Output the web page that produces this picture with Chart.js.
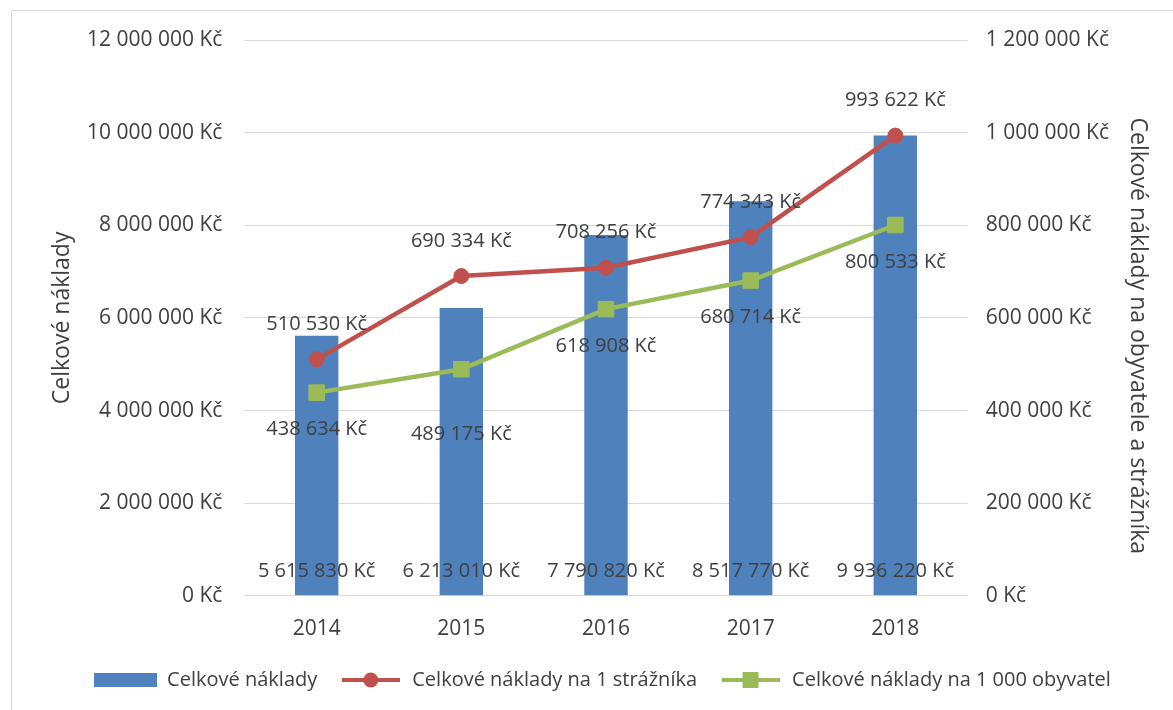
<!DOCTYPE html>
<html>
<head>
<meta charset="utf-8">
<script src="https://cdn.jsdelivr.net/npm/chart.js@4"></script>
<style>
  body { margin: 0; background: #fff; }
  #wrap { position: relative; width: 1173px; height: 710px; overflow: hidden; }
  #frame { position: absolute; left: 11px; top: 10px; width: 1200px; height: 760px; border: 1px solid #d9d9d9; box-sizing: border-box; }
  #chart-box { position: absolute; left: 0; top: 0; width: 1173px; height: 710px; }
</style>
</head>
<body>
<div id="wrap">
  <div id="frame"></div>
  <div id="chart-box"><canvas id="costs-chart"></canvas></div>
</div>
<script>
"use strict";
const years = ["2014", "2015", "2016", "2017", "2018"];
const totalCosts = [5615830, 6213010, 7790820, 8517770, 9936220];
const costsPerGuard = [510530, 690334, 708256, 774343, 993622];
const costsPerThousand = [438634, 489175, 618908, 680714, 800533];
const leftTicks = [0, 2000000, 4000000, 6000000, 8000000, 10000000, 12000000];
const rightTicks = [0, 200000, 400000, 600000, 800000, 1000000, 1200000];

const blue = "#4f81bd";
const red = "#c0504d";
const green = "#9bbb59";
const textColor = "#404040";
const fontFamily = "'Open Sans', 'Noto Sans', sans-serif";

const formatKc = (value) =>
  String(value).replace(/\B(?=(\d{3})+(?!\d))/g, " ") + " Kč";

// legend samples, excel style
const makeSample = (kind, color) => {
  const c = document.createElement("canvas");
  const ctx = c.getContext("2d");
  if (kind === "bar") {
    c.width = 63;
    c.height = 14;
    ctx.fillStyle = color;
    ctx.fillRect(0, 0, 63, 14);
    return c;
  }
  c.width = 58;
  c.height = 18;
  ctx.strokeStyle = color;
  ctx.lineWidth = 4;
  ctx.beginPath();
  ctx.moveTo(0, 9);
  ctx.lineTo(58, 9);
  ctx.stroke();
  ctx.fillStyle = color;
  if (kind === "circle") {
    ctx.beginPath();
    ctx.arc(29, 9, 7.5, 0, Math.PI * 2);
    ctx.fill();
  } else {
    ctx.fillRect(21, 1, 16, 16);
  }
  return c;
};

const dataLabels = {
  id: "dataLabels",
  afterDatasetsDraw(chart) {
    const ctx = chart.ctx;
    const yLeft = chart.scales.y;
    ctx.save();
    ctx.font = "20px " + fontFamily;
    ctx.fillStyle = textColor;
    ctx.textAlign = "center";
    ctx.textBaseline = "middle";
    chart.data.datasets.forEach((ds, i) => {
      const meta = chart.getDatasetMeta(i);
      meta.data.forEach((el, j) => {
        const text = formatKc(ds.data[j]);
        let y;
        if (ds.type === "bar") {
          y = yLeft.getPixelForValue(0) - 25;
        } else if (ds.labelSide === "above") {
          y = el.y - 35;
        } else {
          y = el.y + (j === 1 ? 65 : 37);
        }
        ctx.fillText(text, el.x, y);
      });
    });
    ctx.restore();
  },
};

// pull the legend row a little closer to the axis
const legendNudge = {
  id: "legendNudge",
  afterLayout(chart) {
    if (chart.legend) {
      chart.legend.top -= 7;
      chart.legend.bottom -= 7;
    }
  },
};

const drawChart = () => {
  const chartElement = document.querySelector("#costs-chart");
  new Chart(chartElement, {
    type: "bar",
    data: {
      labels: years,
      datasets: [
        {
          type: "bar",
          label: "Celkové náklady",
          data: totalCosts,
          backgroundColor: blue,
          yAxisID: "y",
          barPercentage: 0.3,
          categoryPercentage: 1,
          order: 3,
          legendSample: makeSample("bar", blue),
        },
        {
          type: "line",
          label: "Celkové náklady na 1 strážníka",
          data: costsPerGuard,
          borderColor: red,
          backgroundColor: red,
          borderWidth: 4.5,
          pointStyle: "circle",
          pointRadius: 7.5,
          pointBorderWidth: 1,
          yAxisID: "y1",
          order: 1,
          labelSide: "above",
          legendSample: makeSample("circle", red),
        },
        {
          type: "line",
          label: "Celkové náklady na 1 000 obyvatel",
          data: costsPerThousand,
          borderColor: green,
          backgroundColor: green,
          borderWidth: 4.5,
          pointStyle: "rect",
          pointRadius: 11,
          pointBorderWidth: 1,
          yAxisID: "y1",
          order: 2,
          labelSide: "below",
          legendSample: makeSample("rect", green),
        },
      ],
    },
    options: {
      responsive: true,
      maintainAspectRatio: false,
      animation: false,
      layout: {
        padding: { left: 50, right: 18, top: 40, bottom: 3 },
      },
      plugins: {
        tooltip: { enabled: false },
        legend: {
          position: "bottom",
          labels: {
            usePointStyle: true,
            pointStyleWidth: 63,
            padding: 22,
            color: textColor,
            font: { family: fontFamily, size: 20 },
            generateLabels: (chart) =>
              chart.data.datasets.map((ds, i) => ({
                text: ds.label,
                pointStyle: ds.legendSample,
                fillStyle: ds.backgroundColor,
                strokeStyle: ds.backgroundColor,
                lineWidth: 0,
                fontColor: textColor,
                datasetIndex: i,
              })),
          },
        },
      },
      scales: {
        x: {
          grid: { display: false },
          border: { display: true, color: "#d9d9d9", width: 1 },
          ticks: {
            color: textColor,
            font: { family: fontFamily, size: 21 },
            padding: 13,
          },
        },
        y: {
          position: "left",
          min: 0,
          max: 12000000,
          afterBuildTicks: (axis) => {
            axis.ticks = leftTicks.map((v) => ({ value: v }));
          },
          grid: { color: "#d9d9d9", lineWidth: 1, drawTicks: false },
          border: { display: false },
          ticks: {
            color: textColor,
            font: { family: fontFamily, size: 21 },
            padding: 22,
            callback: (value) => formatKc(value),
          },
          title: {
            display: true,
            text: "Celkové náklady",
            color: textColor,
            font: { family: fontFamily, size: 23 },
            padding: { top: -1.8, bottom: -10.8 },
          },
        },
        y1: {
          position: "right",
          min: 0,
          max: 1200000,
          afterBuildTicks: (axis) => {
            axis.ticks = rightTicks.map((v) => ({ value: v }));
          },
          grid: { drawOnChartArea: false, drawTicks: false },
          border: { display: false },
          ticks: {
            color: textColor,
            font: { family: fontFamily, size: 21 },
            padding: 18,
            callback: (value) => formatKc(value),
          },
          title: {
            display: true,
            // leading spaces push the title a bit lower, as in the original
            text: "\u00a0\u00a0\u00a0\u00a0\u00a0\u00a0Celkové náklady na obyvatele a strážníka",
            color: textColor,
            font: { family: fontFamily, size: 23 },
            padding: { top: 3.2, bottom: -2.8 },
          },
        },
      },
    },
    plugins: [dataLabels, legendNudge],
  });
};

// make sure Open Sans is ready before Chart.js measures the labels
Promise.all([
  document.fonts.load("21px 'Open Sans'", "0123456789 Kč"),
  document.fonts.load("23px 'Open Sans'", "Celkové náklady"),
])
  .catch((error) => console.error(error))
  .then(drawChart);
</script>
</body>
</html>
